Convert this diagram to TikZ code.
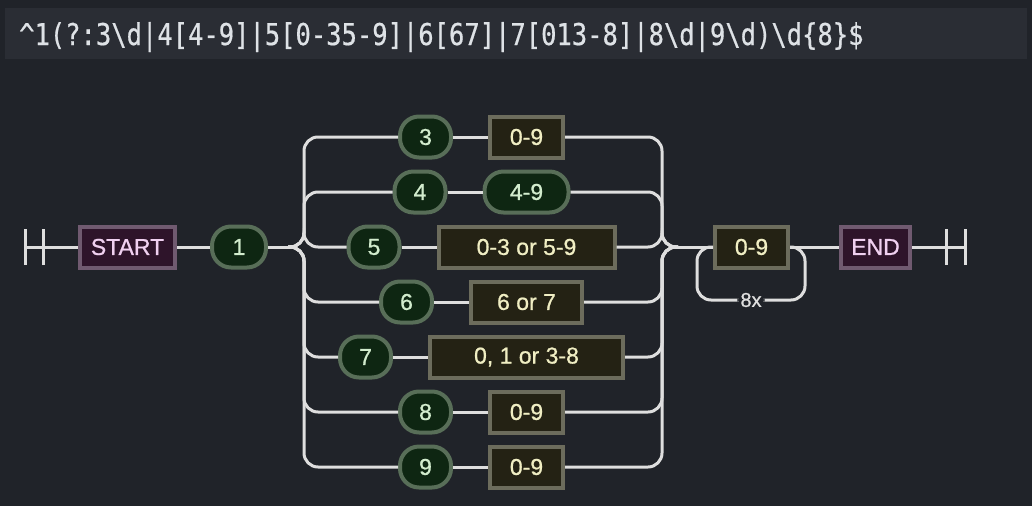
\documentclass[tikz,border=0pt]{standalone}
\usepackage{fontspec}
\setmainfont{Liberation Sans}
\newfontfamily\labelfont[FakeBold=0.8]{Liberation Sans}
\newfontfamily\regexfont[FakeStretch=0.85, FakeBold=0.6]{DejaVu Sans Mono}
\usetikzlibrary{positioning}

\definecolor{bgcolor}{RGB}{32,35,41}
\definecolor{barcolor}{RGB}{42,45,52}
\definecolor{railgray}{RGB}{222,222,222}
\definecolor{regextext}{RGB}{222,226,230}
\definecolor{litfill}{RGB}{14,38,18}
\definecolor{litline}{RGB}{88,110,88}
\definecolor{littext}{RGB}{210,236,205}
\definecolor{clsfill}{RGB}{36,34,20}
\definecolor{clsline}{RGB}{108,108,92}
\definecolor{clstext}{RGB}{240,238,195}
\definecolor{termfill}{RGB}{46,20,42}
\definecolor{termline}{RGB}{112,90,112}
\definecolor{termtext}{RGB}{240,208,240}

\begin{document}
\begin{tikzpicture}[
    x=1pt, y=-1pt,
    node distance=35pt,
    rail/.style={line width=3pt, draw=railgray, rounded corners=14pt},
    termbox/.style={rectangle, draw=termline, fill=termfill, line width=4pt,
        text=termtext, minimum height=41pt, font=\labelfont\fontsize{23}{26}\selectfont},
    litbox/.style={rectangle, rounded corners=19pt, draw=litline, fill=litfill, line width=4pt,
        text=littext, minimum height=41pt, minimum width=51pt, font=\labelfont\fontsize{23}{26}\selectfont},
    classbox/.style={rectangle, draw=clsline, fill=clsfill, line width=4pt,
        text=clstext, minimum height=41pt, font=\labelfont\fontsize{23}{26}\selectfont},
    looplabel/.style={fill=bgcolor, text=railgray, inner sep=3pt, font=\labelfont\fontsize{20}{23}\selectfont}
]

% Background and pattern bar
\fill[bgcolor] (0,0) rectangle (1032,506);
\fill[barcolor] (5,8) rectangle (1027,59);
\node[anchor=base west, inner sep=0pt, text=regextext, font=\regexfont\fontsize{30}{32}\selectfont] (pattern) at (19,45)
    {\textasciicircum1(?:3\textbackslash d|4[4-9]|5[0-35-9]|6[67]|7[013-8]|8\textbackslash d|9\textbackslash d)\textbackslash d\{8\}\$};

% Track points
\coordinate (tl) at (25,247);
\coordinate (tl2) at (43,247);
\coordinate (split) at (288,247);
\coordinate (splitV) at (304,247);
\coordinate (mergeV) at (662,247);
\coordinate (merge) at (678,247);
\coordinate (loopR) at (805,300);
\coordinate (loopL) at (697,300);
\coordinate (tr2) at (946,247);
\coordinate (tr) at (965,247);

% Main line
\node[termbox, minimum width=95pt] (startn) at (127.5,247) {START};
\node[litbox, minimum width=54pt] (n1) at (239,247) {1};
\node[classbox, minimum width=73pt] (d0) at (751.5,247) {0-9};
\node[termbox, minimum width=69pt] (endn) at (875.5,247) {END};

% Alternatives
\node[classbox, minimum width=73pt] (c3) at (526.5,137) {0-9};
\node[litbox, left=of c3] (n3) {3};
\node[litbox, minimum width=84pt] (c4) at (526.5,192) {4-9};
\node[litbox, left=of c4] (n4) {4};
\node[classbox, minimum width=176pt] (c5) at (526.5,247) {0-3 or 5-9};
\node[litbox, left=of c5] (n5) {5};
\node[classbox, minimum width=111pt] (c6) at (526.5,302) {6 or 7};
\node[litbox, left=of c6] (n6) {6};
\node[classbox, minimum width=193pt] (c7) at (526.5,357) {0, 1 or 3-8};
\node[litbox, left=of c7] (n7) {7};
\node[classbox, minimum width=73pt] (c8) at (526.5,412) {0-9};
\node[litbox, left=of c8] (n8) {8};
\node[classbox, minimum width=73pt] (c9) at (526.5,467) {0-9};
\node[litbox, left=of c9] (n9) {9};

% Terminators
\draw[rail] ([yshift=-18pt]tl) -- ([yshift=18pt]tl);
\draw[rail] ([yshift=-18pt]tl2) -- ([yshift=18pt]tl2);
\draw[rail] ([yshift=-18pt]tr2) -- ([yshift=18pt]tr2);
\draw[rail] ([yshift=-18pt]tr) -- ([yshift=18pt]tr);

% Arrows
\draw[rail] (tl) -- (startn);
\draw[rail] (startn) -- (n1);
\draw[rail] (n1) -- (split);
\draw[rail] (split) -- (splitV) |- (n3);
\draw[rail] (split) -- (splitV) |- (n4);
\draw[rail] (split) -- (splitV) |- (n5);
\draw[rail] (split) -- (splitV) |- (n6);
\draw[rail] (split) -- (splitV) |- (n7);
\draw[rail] (split) -- (splitV) |- (n8);
\draw[rail] (split) -- (splitV) |- (n9);
\draw[rail] (n3) -- (c3);
\draw[rail] (n4) -- (c4);
\draw[rail] (n5) -- (c5);
\draw[rail] (n6) -- (c6);
\draw[rail] (n7) -- (c7);
\draw[rail] (n8) -- (c8);
\draw[rail] (n9) -- (c9);
\draw[rail] (c3) -| (mergeV) -- (merge);
\draw[rail] (c4) -| (mergeV) -- (merge);
\draw[rail] (c5) -| (mergeV) -- (merge);
\draw[rail] (c6) -| (mergeV) -- (merge);
\draw[rail] (c7) -| (mergeV) -- (merge);
\draw[rail] (c8) -| (mergeV) -- (merge);
\draw[rail] (c9) -| (mergeV) -- (merge);
\draw[rail] (merge) -- (d0);
\draw[rail] (d0.east) -| (loopR) -- node[looplabel] (times) {8x} (loopL) |- (d0.west);
\draw[rail] (d0) -- (endn);
\draw[rail] (endn) -- (tr);

\end{tikzpicture}
\end{document}
